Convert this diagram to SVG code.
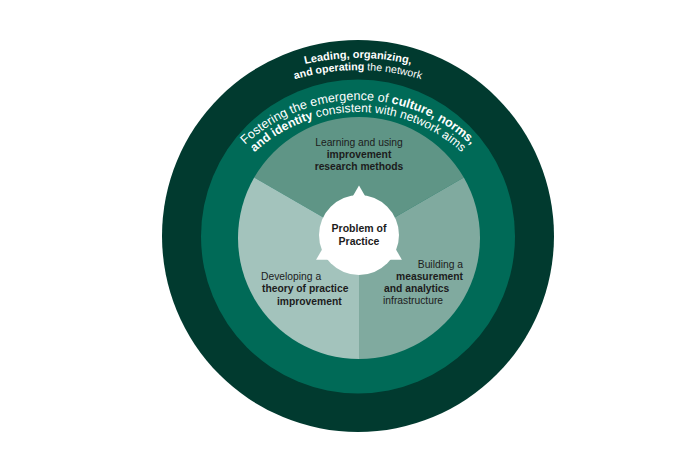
<svg xmlns="http://www.w3.org/2000/svg" xmlns:xlink="http://www.w3.org/1999/xlink" width="700" height="466" viewBox="0 0 700 466">
  <style>
    .t { font-family: "Liberation Sans", Arial, sans-serif; }
    .w { fill: #ffffff; }
    .d { fill: #1c1c1c; }
    .b { font-weight: bold; }
    .pie { font-size: 10.3px; }
  </style>
  <defs>
    <path id="arcA" d="M126,290 A232,232 0 0 1 590,290"/>
    <path id="arcB" d="M138,290 A220,220 0 0 1 578,290"/>
    <path id="arcC" d="M193,265 A165,165 0 0 1 523,265"/>
    <path id="arcD" d="M205,265 A153,153 0 0 1 511,265"/>
  </defs>
  <rect width="700" height="466" fill="#ffffff"/>

  <g id="ring-leading">
    <circle cx="358" cy="236" r="196" fill="#013a2f"/>
    <text class="t w b" font-size="11"><textPath xlink:href="#arcA" href="#arcA" startOffset="50%" text-anchor="middle">Leading, organizing,</textPath></text>
    <text class="t w" font-size="10.6"><textPath xlink:href="#arcB" href="#arcB" startOffset="50%" text-anchor="middle"><tspan class="b">and operating</tspan> the network</textPath></text>
  </g>

  <g id="ring-culture">
    <circle cx="358" cy="236.5" r="157" fill="#006a57"/>
    <text class="t w" font-size="12.6"><textPath xlink:href="#arcC" href="#arcC" startOffset="50%" text-anchor="middle">Fostering the emergence of <tspan class="b">culture, norms,</tspan></textPath></text>
    <text class="t w" font-size="12.2"><textPath xlink:href="#arcD" href="#arcD" startOffset="50%" text-anchor="middle"><tspan class="b">and identity</tspan> consistent with network aims</textPath></text>
  </g>

  <g id="sector-methods">
    <path d="M359,238 L254.2,177.5 A121,121 0 0 1 463.8,177.5 Z" fill="#5f9586"/>
    <text class="t d pie" x="359" y="146" text-anchor="middle">Learning and using</text>
    <text class="t d pie b" x="359" y="158" text-anchor="middle">improvement</text>
    <text class="t d pie b" x="359" y="170" text-anchor="middle">research methods</text>
  </g>

  <g id="sector-measurement">
    <path d="M359,238 L463.8,177.5 A121,121 0 0 1 359,359 Z" fill="#80aa9f"/>
    <text class="t d pie" x="463" y="268" text-anchor="end">Building a</text>
    <text class="t d pie b" x="463" y="280" text-anchor="end">measurement</text>
    <text class="t d pie b" x="384" y="292">and analytics</text>
    <text class="t d pie" x="383" y="304">infrastructure</text>
  </g>

  <g id="sector-theory">
    <path d="M359,238 L359,359 A121,121 0 0 1 254.2,177.5 Z" fill="#a3c3bc"/>
    <text class="t d pie" x="261" y="280">Developing a</text>
    <text class="t d pie b" x="262" y="292">theory of practice</text>
    <text class="t d pie b" x="277" y="305">improvement</text>
  </g>

  <g id="problem-of-practice">
    <circle cx="359" cy="235" r="40" fill="#ffffff"/>
    <polygon points="359,185.5 316.1,259.8 401.9,259.8" fill="#ffffff"/>
    <text class="t d b" font-size="10.5" x="359" y="232" text-anchor="middle">Problem of</text>
    <text class="t d b" font-size="10.5" x="359" y="245" text-anchor="middle">Practice</text>
  </g>
</svg>
